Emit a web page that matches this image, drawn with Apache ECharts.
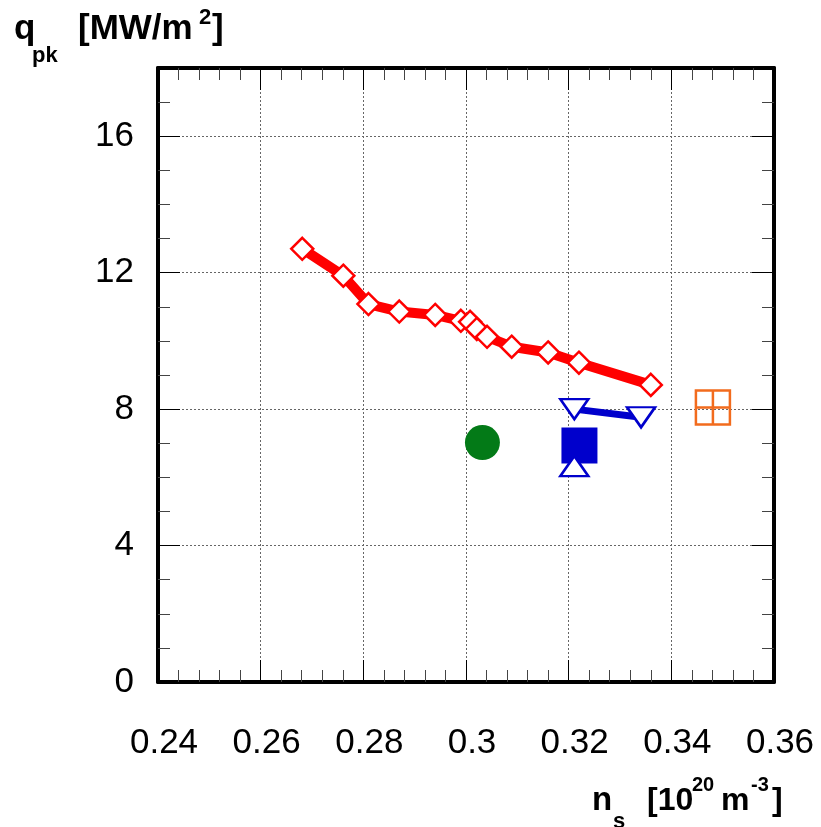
<!DOCTYPE html>
<html>
<head>
<meta charset="utf-8">
<script src="https://cdn.jsdelivr.net/npm/echarts@6/dist/echarts.min.js"></script>
<style>
html,body{margin:0;padding:0;background:#fff;}
#c{width:821px;height:827px;}
</style>
</head>
<body>
<div id="c"></div>
<script>
// x-axis ticks (n_s, 1e20 m^-3) and y-axis ticks (q_pk, MW/m^2)
const xTicks = [0.24, 0.26, 0.28, 0.30, 0.32, 0.34, 0.36];
const yTicks = [0, 4, 8, 12, 16];

// red open diamonds connected by thick line
const redNs = [0.2681, 0.2761, 0.2810, 0.2870, 0.2940, 0.2990, 0.3008, 0.3021, 0.3041, 0.3089, 0.3160, 0.3220, 0.3360];
const redQ  = [12.70, 11.91, 11.08, 10.86, 10.76, 10.59, 10.56, 10.35, 10.12, 9.83, 9.66, 9.36, 8.71];

// blue open down-triangles connected by line
const blueDownNs = [0.3211, 0.3341];
const blueDownQ  = [8.00, 7.76];

// blue filled square
const blueSqNs = [0.3221];
const blueSqQ  = [6.93];

// blue open up-triangle
const blueUpNs = [0.3211];
const blueUpQ  = [6.33];

// green filled circle
const greenNs = [0.3032];
const greenQ  = [7.02];

// orange open square with cross
const orangeNs = [0.3481];
const orangeQ  = [8.05];

const zip = (a, b) => a.map((v, i) => [v, b[i]]);

const chart = echarts.init(document.getElementById('c'), null, {renderer: 'canvas'});
const FONT = 'Liberation Sans, Arial, sans-serif';
const gridLine = {show: true, lineStyle: {color: '#666', width: 1, type: [2, 2]}};

function xAx(pos, labels) {
  return {
    type: 'value', position: pos, min: 0.24, max: 0.36, interval: 0.02,
    axisLine: {show: true, onZero: false, lineStyle: {color: '#000', width: 4}},
    axisTick: {show: true, inside: true, length: 22, lineStyle: {color: '#000', width: 1}},
    minorTick: {show: true, splitNumber: 5, length: 12, lineStyle: {color: '#444', width: 1}},
    axisLabel: {show: labels, fontFamily: FONT, fontSize: 35, color: '#000', margin: 44, padding: [0, 0, 0, 12],
      formatter: v => {const s = xTicks.find(t => Math.abs(t - v) < 1e-9); return s === undefined ? '' : String(+s.toFixed(2));}},
    splitLine: labels ? gridLine : {show: false}
  };
}
function yAx(pos, labels) {
  return {
    type: 'value', position: pos, min: 0, max: 18, interval: 4,
    axisLine: {show: true, onZero: false, lineStyle: {color: '#000', width: 4}},
    axisTick: {show: true, inside: true, length: 22, lineStyle: {color: '#000', width: 1}},
    minorTick: {show: true, splitNumber: 4, length: 12, lineStyle: {color: '#444', width: 1}},
    axisLabel: {show: labels, fontFamily: FONT, fontSize: 35, color: '#000', margin: 24,
      formatter: v => yTicks.indexOf(v) >= 0 ? String(v) : ''},
    splitLine: labels ? gridLine : {show: false}
  };
}

const blue = '#0000cc';
const option = {
  animation: false,
  backgroundColor: '#fff',
  grid: {left: 158, right: 47, top: 68, bottom: 145, containLabel: false},
  xAxis: [xAx('bottom', true), xAx('top', false)],
  yAxis: [yAx('left', true), yAx('right', false)],
  series: [
    {type: 'line', data: zip(redNs, redQ), symbol: 'diamond', symbolSize: 22,
      lineStyle: {color: '#ff0000', width: 10},
      itemStyle: {color: '#fff', borderColor: '#ff0000', borderWidth: 2.5}, z: 5},
    {type: 'line', data: zip(blueDownNs, blueDownQ), symbol: 'triangle', symbolRotate: 180, symbolSize: [28, 20],
      lineStyle: {color: blue, width: 7},
      itemStyle: {color: '#fff', borderColor: blue, borderWidth: 2.5}, z: 5},
    {type: 'scatter', data: zip(blueSqNs, blueSqQ), symbol: 'rect', symbolSize: 36,
      itemStyle: {color: blue, opacity: 1}, z: 5},
    {type: 'scatter', data: zip(blueUpNs, blueUpQ), symbol: 'triangle', symbolSize: [28, 20],
      itemStyle: {color: '#fff', borderColor: blue, borderWidth: 2.5, opacity: 1}, z: 6},
    {type: 'scatter', data: zip(greenNs, greenQ), symbol: 'circle', symbolSize: 35,
      itemStyle: {color: '#037a17', opacity: 1}, z: 5},
    {type: 'scatter', data: zip(orangeNs, orangeQ), symbol: 'path://M0,0H2V2H0ZM1,0V2M0,1H2', symbolSize: 34,
      itemStyle: {color: 'none', borderColor: '#f26b1d', borderWidth: 2.5, opacity: 1}, z: 5}
  ],
  graphic: [
    {type: 'text', left: 14, top: 12, style: {text: 'q', font: 'bold 35px ' + FONT, fill: '#000'}},
    {type: 'text', left: 32, top: 45, style: {text: 'pk', font: 'bold 22px ' + FONT, fill: '#000'}},
    {type: 'text', left: 78, top: 12, style: {text: '[MW/m', font: 'bold 35px ' + FONT, fill: '#000'}},
    {type: 'text', left: 199, top: 7, style: {text: '2', font: 'bold 22px ' + FONT, fill: '#000'}},
    {type: 'text', left: 212, top: 12, style: {text: ']', font: 'bold 35px ' + FONT, fill: '#000'}},

    {type: 'text', left: 592, top: 784, style: {text: 'n', font: 'bold 33px ' + FONT, fill: '#000'}},
    {type: 'text', left: 613, top: 811, style: {text: 's', font: 'bold 22px ' + FONT, fill: '#000'}},
    {type: 'text', left: 647, top: 785, style: {text: '[10', font: 'bold 32px ' + FONT, fill: '#000'}},
    {type: 'text', left: 692, top: 775, style: {text: '20', font: 'bold 20px ' + FONT, fill: '#000'}},
    {type: 'text', left: 721, top: 785, style: {text: 'm', font: 'bold 32px ' + FONT, fill: '#000'}},
    {type: 'text', left: 751, top: 775, style: {text: '-3', font: 'bold 20px ' + FONT, fill: '#000'}},
    {type: 'text', left: 772, top: 785, style: {text: ']', font: 'bold 32px ' + FONT, fill: '#000'}}
  ]
};
chart.setOption(option);
</script>
</body>
</html>
